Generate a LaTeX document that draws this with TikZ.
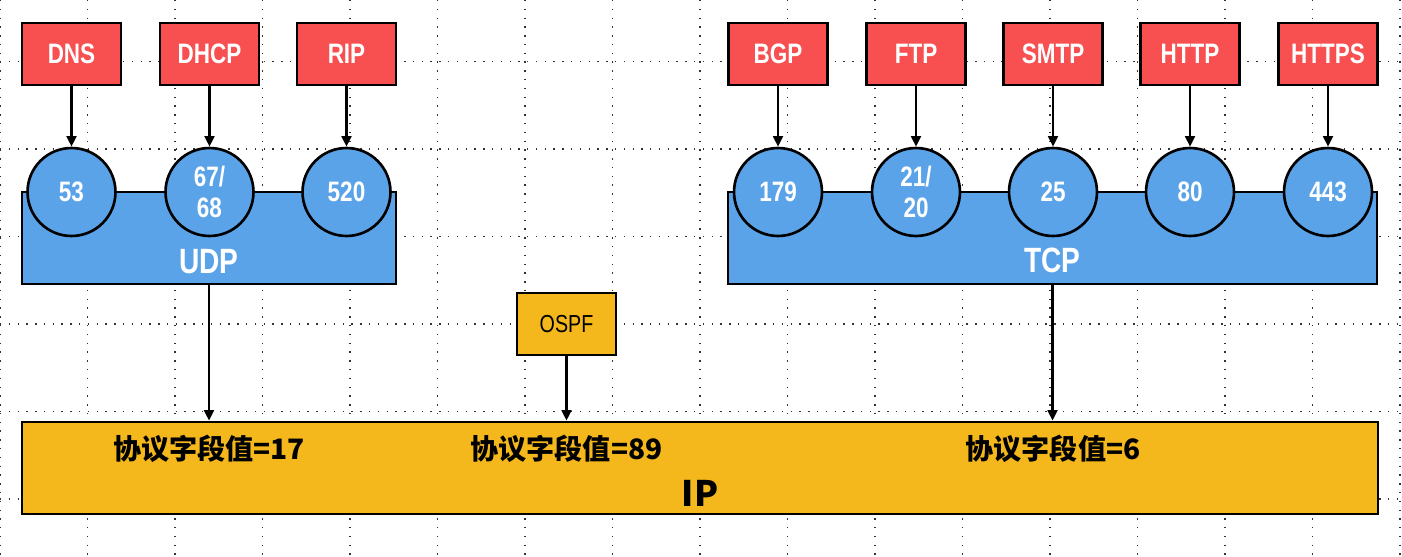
\documentclass[tikz,border=0pt]{standalone}
\usepackage{fontspec}
\setmainfont[FakeStretch=0.8]{Liberation Sans}
\newfontfamily\cjk{Noto Sans CJK SC}
\usetikzlibrary{arrows.meta}

\definecolor{protored}{HTML}{F85050}
\definecolor{portblue}{HTML}{5BA3E8}
\definecolor{ipgold}{HTML}{F4B81C}

\begin{document}
\begin{tikzpicture}[x=0.02cm,y=-0.02cm,>={Triangle[length=6pt,width=5.5pt]},line width=1.5pt,
  grid/.style={line width=0.8pt,dash pattern=on 0.8pt off 4.2pt,black!80},
  proto/.style={draw,fill=protored,text=white,minimum width=1.98cm,minimum height=1.24cm,inner sep=0pt,font=\bfseries\fontsize{16}{18}\selectfont},
  port/.style={circle,draw,fill=portblue,text=white,minimum size=1.76cm,inner sep=0pt,align=center,font=\bfseries\fontsize{16}{18}\selectfont},
  layer/.style={draw,minimum height=1.84cm,inner sep=0pt},
  layerlbl/.style={text=white,inner sep=0pt,font=\bfseries\fontsize{20}{22}\selectfont},
  iplbl/.style={inner sep=0pt,font=\cjk\bfseries\fontsize{16}{18}\selectfont}]
  \useasboundingbox (0,0) rectangle (1402,557);
  % dotted background grid
  \foreach \gx in {0,87.5,...,1400} \draw[grid] (\gx,0) -- (\gx,557);
  \foreach \gy in {61.5,149,...,520} \draw[grid] (0,\gy) -- (1402,\gy);

  % transport and network layers
  \node[layer,fill=portblue,minimum width=7.48cm] (udp) at (209,238) {};
  \node[layerlbl] (udplbl) at (209,262) {UDP};
  \node[layer,fill=portblue,minimum width=12.98cm] (tcp) at (1052.5,238) {};
  \node[layerlbl] (tcplbl) at (1052.5,260) {TCP};
  \node[layer,fill=ipgold,minimum width=27.12cm] (ip) at (700,468) {};
  \node[iplbl] (v17) at (209,449) {协议字段值=17};
  \node[iplbl] (v89) at (566.5,449) {协议字段值=89};
  \node[iplbl] (v6) at (1053,449) {协议字段值=6};
  \node[inner sep=0pt,font=\cjk\bfseries\fontsize{20}{22}\selectfont] (iplbl) at (700,493) {IP};

  % application protocols and their ports
  \foreach \lbl/\nm/\num/\gx in {DNS/dns/53/71.5,DHCP/dhcp/{67/\\68}/209.5,RIP/rip/520/346.5,
      BGP/bgp/179/778,FTP/ftp/{21/\\20}/916,SMTP/smtp/25/1053,HTTP/http/80/1190,HTTPS/https/443/1328}{
    \node[proto] (\nm) at (\gx,54) {\lbl};
    \node[port] (\nm port) at (\gx,192) {\num};
    \draw[->] (\nm) -- (\nm port);
  }

  \node[draw,fill=ipgold,minimum width=1.98cm,minimum height=1.24cm,inner sep=0pt,
    font=\fontsize{14}{16}\selectfont] (ospf) at (566.5,324) {OSPF};

  \draw[->] (udp) -- (udp |- ip.north);
  \draw[->] (ospf) -- (ospf |- ip.north);
  \draw[->] (tcp) -- (tcp |- ip.north);
\end{tikzpicture}
\end{document}
